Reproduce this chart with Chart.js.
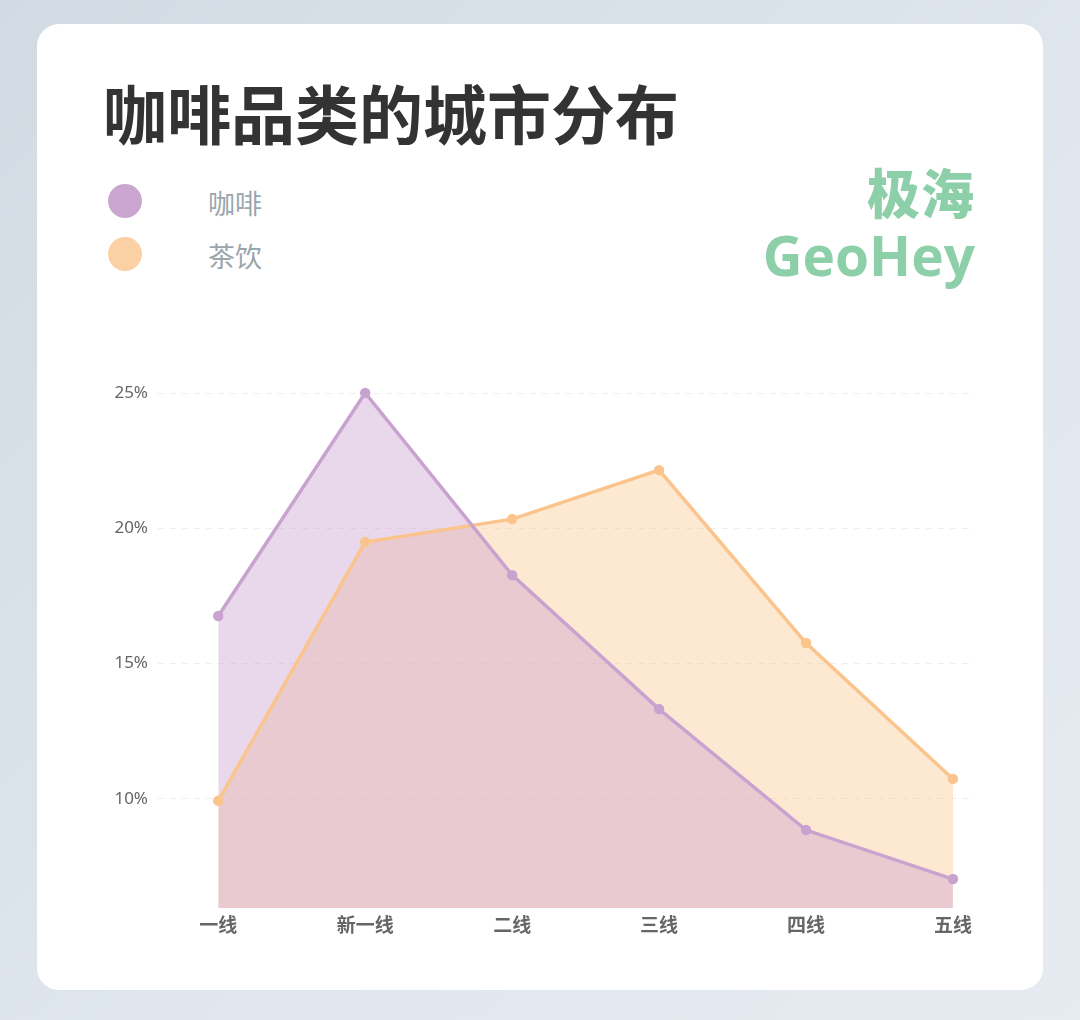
<!DOCTYPE html>
<html lang="zh">
<head>
<meta charset="utf-8">
<script src="https://cdn.jsdelivr.net/npm/chart.js@4"></script>
<style>
  html, body { margin: 0; padding: 0; }
  body {
    width: 1080px; height: 1020px; overflow: hidden; position: relative;
    background: linear-gradient(135deg, #d2dae3 0%, #dfe6ed 55%, #e6ebf1 100%);
    font-family: "Noto Sans CJK SC", "Noto Sans", sans-serif;
  }
  .card {
    position: absolute; left: 37px; top: 24px; width: 1006px; height: 966px;
    background: #fff; border-radius: 22px;
  }
  .title {
    position: absolute; left: 103px; top: 66px; margin: 0; white-space: nowrap;
    font-size: 64px; font-weight: 700; color: #333; line-height: 90px;
  }
  .legend { position: absolute; left: 108px; top: 184px; }
  .legend .item { position: relative; height: 53px; width: 200px; }
  .legend .dot { position: absolute; left: 0; top: 0; width: 34px; height: 34px; border-radius: 50%; }
  .legend .lab { position: absolute; left: 100px; top: 0; font-size: 27px; color: #9aa6ad; line-height: 38px; white-space: nowrap; }
  .logo { position: absolute; right: 105px; top: 153px; text-align: right; color: #8ccfa8; white-space: nowrap; }
  .logo .cn { font-size: 53px; font-weight: 900; line-height: 76px; letter-spacing: 1px; }
  .logo .en { font-family: "Open Sans", sans-serif; font-size: 55px; font-weight: 700; line-height: 60px; margin-top: -4px; }
  .chart-box { position: absolute; left: 60px; top: 370px; width: 930px; height: 580px; }
</style>
</head>
<body>
<div class="card"></div>
<h1 class="title">咖啡品类的城市分布</h1>
<div class="legend" id="legend"></div>
<div class="logo"><div class="cn">极海</div><div class="en">GeoHey</div></div>
<div class="chart-box"><canvas id="c"></canvas></div>
<script>
// 城市等级
const CATEGORIES = ['一线', '新一线', '二线', '三线', '四线', '五线'];
// 占比(%)
const COFFEE = [16.76, 25.0, 18.27, 13.32, 8.85, 7.04];
const TEA = [9.93, 19.49, 20.34, 22.15, 15.76, 10.74];
const SERIES_NAMES = ['咖啡', '茶饮'];
const Y_TICKS = [10, 15, 20, 25];

const PURPLE = '#c9a3d0', PURPLE_FILL = 'rgba(203,163,208,0.42)';
const ORANGE = '#fac48c', ORANGE_FILL = 'rgba(250,197,141,0.4)';

// 图例
const legendColors = ['#cba6d1', '#fbd0a4'];
document.getElementById('legend').innerHTML = SERIES_NAMES.map((n, i) =>
  `<div class="item"><span class="dot" style="background:${legendColors[i]}"></span><span class="lab">${n}</span></div>`
).join('');

const toXY = arr => arr.map((v, i) => ({ x: i, y: v }));

new Chart(document.getElementById('c'), {
  type: 'line',
  data: {
    datasets: [
      { label: SERIES_NAMES[0], data: toXY(COFFEE), borderColor: PURPLE, backgroundColor: PURPLE_FILL,
        pointBackgroundColor: PURPLE, pointBorderColor: PURPLE, fill: 'start', borderWidth: 3.5,
        pointRadius: 3.5, tension: 0, clip: false },
      { label: SERIES_NAMES[1], data: toXY(TEA), borderColor: ORANGE, backgroundColor: ORANGE_FILL,
        pointBackgroundColor: ORANGE, pointBorderColor: ORANGE, fill: 'start', borderWidth: 3.5,
        pointRadius: 3.5, tension: 0, clip: false }
    ]
  },
  options: {
    responsive: true, maintainAspectRatio: false, animation: false,
    layout: { padding: { top: 23, right: 15, bottom: 0, left: 0 } },
    plugins: {
      legend: { display: false }, tooltip: { enabled: false },
      filler: { drawTime: 'beforeDatasetsDraw' }
    },
    scales: {
      x: {
        type: 'linear', min: -0.41, max: 5.15,
        afterBuildTicks: ax => { ax.ticks = CATEGORIES.map((_, i) => ({ value: i })); },
        afterFit: ax => { ax.height = 42; },
        grid: { display: false, drawTicks: false },
        border: { display: false },
        ticks: {
          padding: 5, color: '#666', font: { family: 'Noto Sans CJK SC', size: 19, weight: 'bold' },
          callback: v => CATEGORIES[v]
        }
      },
      y: {
        min: 5.97, max: 25,
        afterBuildTicks: ax => { ax.ticks = Y_TICKS.map(v => ({ value: v })); },
        afterFit: ax => { ax.width = 98; },
        grid: { color: '#eeeeee', lineWidth: 1, drawTicks: false },
        border: { display: false, dash: [6, 6] },
        ticks: {
          padding: 10, color: '#666', font: { family: 'Noto Sans', size: 17 },
          callback: v => v + '%'
        }
      }
    }
  }
});
</script>
</body>
</html>
